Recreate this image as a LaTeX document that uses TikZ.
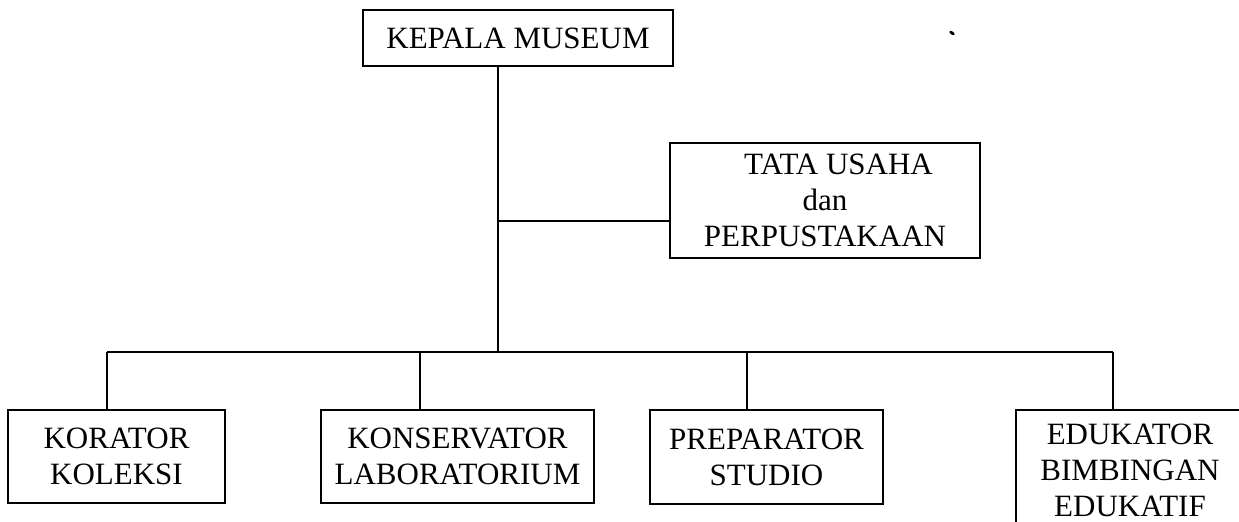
\documentclass[tikz,border=0pt]{standalone}
\usepackage{fontspec}
\setmainfont{Liberation Serif}
\begin{document}
\begin{tikzpicture}[x=0.5pt,y=-0.5pt,
  unit/.style={draw=black, line width=1pt, rectangle, inner sep=0pt, align=center,
    font=\fontsize{15.5}{18}\selectfont},
  link/.style={draw=black, line width=1pt}]
\useasboundingbox (0,0) rectangle (1239,521);
\clip (0,0) rectangle (1239,521);
\fill[white] (0,0) rectangle (1239,521);

\node[unit, minimum width=155pt, minimum height=28pt] (kepala) at (518,38) {KEPALA MUSEUM};
\node[unit, minimum width=155pt, minimum height=57.5pt] (tata) at (825,200.5)
  {\hspace*{0.87em}TATA USAHA\\dan\\PERPUSTAKAAN};
\node[unit, minimum width=108.5pt, minimum height=46.5pt] (korator) at (116.5,456.5) {KORATOR\\KOLEKSI};
\node[unit, minimum width=136.5pt, minimum height=46.5pt] (konservator) at (457.5,456.5) {KONSERVATOR\\LABORATORIUM};
\node[unit, minimum width=116.5pt, minimum height=47pt] (preparator) at (766.5,457) {PREPARATOR\\STUDIO};
\node[unit, minimum width=114pt, minimum height=60pt] (edukator) at (1130,470) {EDUKATOR\\BIMBINGAN\\EDUKATIF};

\coordinate (trunk) at (498,352);
\coordinate (tj) at (498,221);
\coordinate (b1) at (107,352);
\coordinate (b2) at (420,352);
\coordinate (b3) at (747,352);
\coordinate (b4) at (1113,352);

\draw[link] (kepala.south -| trunk) -- (trunk);
\draw[link] (tj) -- (tj -| tata.west);
\draw[link] (b1) -- (b4);
\draw[link] (b1) -- (b1 |- korator.north);
\draw[link] (b2) -- (b2 |- konservator.north);
\draw[link] (b3) -- (b3 |- preparator.north);
\draw[link] (b4) -- (b4 |- edukator.north);

\fill[black, rotate around={-35:(952,33)}] (952,33) ellipse (3 and 1.6);
\end{tikzpicture}
\end{document}
